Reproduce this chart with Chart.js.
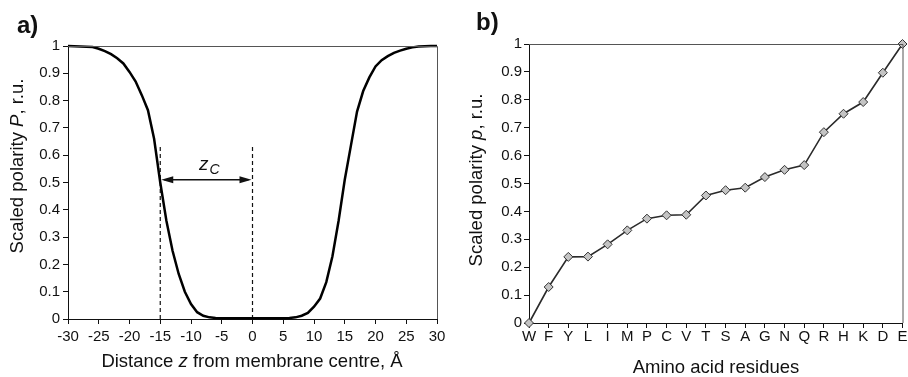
<!DOCTYPE html>
<html lang="en">
<head>
  <meta charset="UTF-8" />
  <title>Scaled polarity</title>
  <script src="https://cdn.jsdelivr.net/npm/chart.js"></script>
  <style>
    body, html {
      margin: 0;
      background: #fff;
    }
    #wrap {
      position: relative;
      width: 908px;
      height: 377px;
    }
    canvas {
      position: absolute;
      top: 0;
    }
    #chartA { left: 0; }
    #chartB { left: 454px; }
  </style>
</head>
<body>
  <div id="wrap">
    <canvas id="chartA" width="454" height="377"></canvas>
    <canvas id="chartB" width="454" height="377"></canvas>
  </div>

  <script>
    // panel a) - polarity profile across the membrane
    const zValues = [-30, -29, -28, -27, -26, -25, -24, -23, -22, -21, -20, -19, -18, -17, -16, -15,
      -14, -13, -12, -11, -10, -9, -8, -7, -6, -5, -4, -3, -2, -1, 0, 1, 2, 3, 4, 5, 6, 7, 8, 9,
      10, 11, 12, 13, 14, 15, 16, 17, 18, 19, 20, 21, 22, 23, 24, 25, 26, 27, 28, 29, 30];
    const polarityP = [1.0, 0.999, 0.998, 0.997, 0.996, 0.99, 0.981, 0.97, 0.955, 0.936, 0.905, 0.87,
      0.82, 0.765, 0.66, 0.5, 0.36, 0.25, 0.165, 0.1, 0.055, 0.025, 0.012, 0.006, 0.004, 0.003,
      0.003, 0.003, 0.003, 0.003, 0.003, 0.003, 0.003, 0.003, 0.003, 0.003, 0.004, 0.006, 0.012,
      0.022, 0.045, 0.075, 0.135, 0.23, 0.36, 0.51, 0.635, 0.76, 0.835, 0.885, 0.925, 0.948,
      0.963, 0.975, 0.983, 0.99, 0.995, 0.998, 0.999, 1.0, 1.0];
    const zcLeft = -15;
    const zcRight = 0;
    const zcLineTop = 0.64;
    const arrowLevel = 0.51;
    const xTickLabelsA = ['-30', '-25', '-20', '-15', '-10', '-5', '0', '5', '10', '15', '20', '25', '30'];

    // panel b) - amino acid residues
    const residues = ['W', 'F', 'Y', 'L', 'I', 'M', 'P', 'C', 'V', 'T', 'S', 'A', 'G', 'N', 'Q', 'R', 'H', 'K', 'D', 'E'];
    const polarityp = [0, 0.129, 0.237, 0.238, 0.282, 0.332, 0.374, 0.386, 0.388, 0.457,
      0.476, 0.485, 0.523, 0.549, 0.566, 0.684, 0.75, 0.792, 0.897, 1.0];

    const yTickLabels = ['0', '0.1', '0.2', '0.3', '0.4', '0.5', '0.6', '0.7', '0.8', '0.9', '1'];

    const FONT = '"Liberation Sans", Arial, Helvetica, sans-serif';

    // draw text made of runs with different styles, centred on x
    function drawRuns(ctx, runs, x, y) {
      let total = 0;
      runs.forEach(r => { ctx.font = r.font; total += ctx.measureText(r.text).width; });
      let cx = x - total / 2;
      ctx.textBaseline = 'middle';
      ctx.textAlign = 'left';
      runs.forEach(r => {
        ctx.font = r.font;
        ctx.fillText(r.text, cx, y);
        cx += ctx.measureText(r.text).width;
      });
    }

    const decor = {
      id: 'decor',
      afterDatasetsDraw(chart, args, opts) {
        const ctx = chart.ctx;
        const area = chart.chartArea;
        ctx.save();
        ctx.fillStyle = '#111';

        // frame on top and right
        ctx.lineWidth = 1;
        ctx.strokeStyle = '#555';
        ctx.beginPath();
        ctx.moveTo(area.left, area.top + 0.5);
        ctx.lineTo(area.right + 0.5, area.top + 0.5);
        ctx.lineTo(area.right + 0.5, area.bottom);
        ctx.stroke();

        // double arrow between the dashed lines
        if (opts.arrow) {
          const xs = chart.scales.x, ys = chart.scales.y;
          const x1 = xs.getPixelForValue(zcLeft), x2 = xs.getPixelForValue(zcRight);
          const y = ys.getPixelForValue(arrowLevel);
          ctx.strokeStyle = '#111';
          ctx.lineWidth = 1.3;
          ctx.beginPath();
          ctx.moveTo(x1 + 4, y);
          ctx.lineTo(x2 - 4, y);
          ctx.stroke();
          ctx.beginPath();
          ctx.moveTo(x1 + 1, y);
          ctx.lineTo(x1 + 13, y - 3.5);
          ctx.lineTo(x1 + 13, y + 3.5);
          ctx.closePath();
          ctx.fill();
          ctx.beginPath();
          ctx.moveTo(x2 - 1, y);
          ctx.lineTo(x2 - 13, y - 3.5);
          ctx.lineTo(x2 - 13, y + 3.5);
          ctx.closePath();
          ctx.fill();

          // z_C label
          const lx = xs.getPixelForValue(-7.9);
          const ly = ys.getPixelForValue(0.546);
          ctx.textBaseline = 'alphabetic';
          ctx.textAlign = 'left';
          ctx.font = 'italic 19px ' + FONT;
          ctx.fillText('z', lx - 5, ly);
          const w = ctx.measureText('z').width;
          ctx.font = 'italic 14px ' + FONT;
          ctx.fillText('C', lx - 5 + w + 1, ly + 4);
        }
        ctx.restore();
      },
      afterDraw(chart, args, opts) {
        const ctx = chart.ctx;
        ctx.save();
        ctx.fillStyle = '#111';
        // panel letter
        ctx.font = 'bold 24px ' + FONT;
        ctx.textBaseline = 'alphabetic';
        ctx.textAlign = 'left';
        ctx.fillText(opts.letter, opts.letterX, opts.letterY);
        // x title
        drawRuns(ctx, opts.xTitle, opts.xTitleX, opts.xTitleY);
        // y title, rotated
        ctx.translate(opts.yTitleX, opts.yTitleY);
        ctx.rotate(-Math.PI / 2);
        drawRuns(ctx, opts.yTitle, 0, 0);
        ctx.restore();
      }
    };

    const plain = '18.5px ' + FONT;
    const ital = 'italic 18.5px ' + FONT;

    function axisCommon(fontSize, pad) {
      return {
        grid: { display: true, drawOnChartArea: false, drawTicks: true, tickLength: 5, color: '#111' },
        border: { display: true, color: '#111', width: 1 },
        ticks: { color: '#111', font: { family: FONT, size: fontSize }, padding: pad, maxRotation: 0, autoSkip: false }
      };
    }

    // ---- chart a)
    const axA = axisCommon(15, 4);
    const ayA = axisCommon(15, 3);
    new Chart(document.getElementById('chartA').getContext('2d'), {
      type: 'line',
      data: {
        datasets: [
          {
            data: zValues.map((z, i) => ({ x: z, y: polarityP[i] })),
            borderColor: '#000',
            borderWidth: 2.5,
            pointRadius: 0,
            tension: 0,
            clip: false
          },
          {
            data: [{ x: zcLeft, y: 0 }, { x: zcLeft, y: zcLineTop }],
            borderColor: '#111',
            borderWidth: 1.2,
            borderDash: [4, 3],
            pointRadius: 0
          },
          {
            data: [{ x: zcRight, y: 0 }, { x: zcRight, y: zcLineTop }],
            borderColor: '#111',
            borderWidth: 1.2,
            borderDash: [4, 3],
            pointRadius: 0
          }
        ]
      },
      options: {
        responsive: false,
        animation: false,
        layout: { padding: { left: 0, right: 17, top: 46, bottom: 0 } },
        scales: {
          x: {
            type: 'linear',
            min: -30,
            max: 30,
            grid: axA.grid,
            border: axA.border,
            ticks: Object.assign({}, axA.ticks, { stepSize: 5, callback: (v, i) => xTickLabelsA[i] }),
            afterFit: s => { s.height = 58; }
          },
          y: {
            min: 0,
            max: 1,
            grid: ayA.grid,
            border: ayA.border,
            ticks: Object.assign({}, ayA.ticks, { stepSize: 0.1, callback: (v, i) => yTickLabels[i] }),
            afterFit: s => { s.width = 68; }
          }
        },
        plugins: {
          legend: { display: false },
          tooltip: { enabled: false },
          decor: {
            arrow: true,
            letter: 'a)', letterX: 17, letterY: 33,
            xTitle: [{ text: 'Distance ', font: plain }, { text: 'z', font: ital }, { text: ' from membrane centre, Å', font: plain }],
            xTitleX: 252, xTitleY: 362,
            yTitle: [{ text: 'Scaled polarity ', font: plain }, { text: 'P', font: ital }, { text: ', r.u.', font: plain }],
            yTitleX: 18, yTitleY: 166
          }
        }
      },
      plugins: [decor]
    });

    // ---- chart b)
    const axB = axisCommon(15, 0);
    const ayB = axisCommon(15, 2);
    new Chart(document.getElementById('chartB').getContext('2d'), {
      type: 'line',
      data: {
        labels: residues,
        datasets: [{
          data: polarityp,
          borderColor: '#2a2a2a',
          borderWidth: 1.6,
          tension: 0,
          pointStyle: 'rectRot',
          pointRadius: 4.5,
          pointBackgroundColor: '#c4c4c4',
          pointBorderColor: '#333',
          pointBorderWidth: 1,
          clip: false
        }]
      },
      options: {
        responsive: false,
        animation: false,
        layout: { padding: { left: 0, right: 5, top: 44, bottom: 0 } },
        scales: {
          x: {
            type: 'category',
            offset: false,
            grid: Object.assign({}, axB.grid, { offset: false }),
            border: axB.border,
            ticks: axB.ticks,
            afterFit: s => { s.height = 54; }
          },
          y: {
            min: 0,
            max: 1,
            grid: ayB.grid,
            border: ayB.border,
            ticks: Object.assign({}, ayB.ticks, { stepSize: 0.1, callback: (v, i) => yTickLabels[i] }),
            afterFit: s => { s.width = 75; }
          }
        },
        plugins: {
          legend: { display: false },
          tooltip: { enabled: false },
          decor: {
            arrow: false,
            letter: 'b)', letterX: 22, letterY: 30,
            xTitle: [{ text: 'Amino acid residues', font: plain }],
            xTitleX: 262, xTitleY: 368,
            yTitle: [{ text: 'Scaled polarity ', font: plain }, { text: 'p', font: ital }, { text: ', r.u.', font: plain }],
            yTitleX: 23, yTitleY: 180
          }
        }
      },
      plugins: [decor]
    });
  </script>
</body>
</html>
